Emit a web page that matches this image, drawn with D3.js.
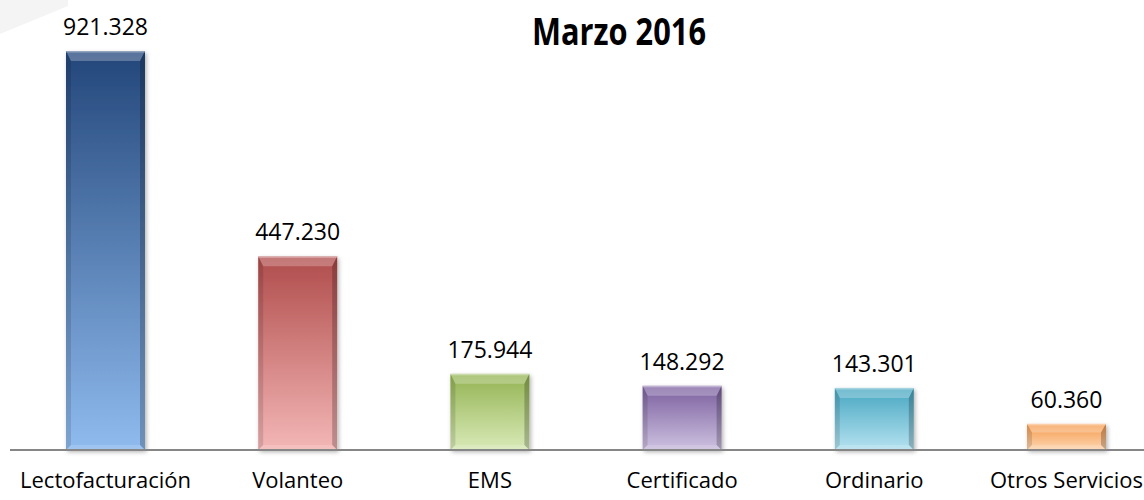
<!DOCTYPE html>
<html><head><meta charset="utf-8">
<script src="https://cdn.jsdelivr.net/npm/d3@7"></script>
<style>html,body{margin:0;padding:0;background:#fff;overflow:hidden}</style>
</head><body>
<svg id="chart" width="1144" height="500"></svg>
<script>
const categories = ["Lectofacturación","Volanteo","EMS","Certificado","Ordinario","Otros Servicios"];
const values = [921.328, 447.230, 175.944, 148.292, 143.301, 60.360];
const labels = ["921.328","447.230","175.944","148.292","143.301","60.360"];
const topColors = ["#23467a","#b04c4b","#93b352","#7b5f9e","#46a6c1","#f59a4c"];
const bottomColors = ["#8fbbee","#f3b7b6","#d9eab8","#cdc1e0","#b5e2f0","#fcd6b2"];
const title = "Marzo 2016";

const W = 1144, H = 500;
const svg = d3.select("#chart");
const defs = svg.append("defs");

// faint decorative shape top-left
svg.append("polygon").attr("points","0,0 68,0 68,6 0,34").attr("fill","#f4f4f4");

const x = d3.scaleBand().domain(categories).range([9.4, 1162.6]).paddingInner(0.589).paddingOuter(0.2945);
const baseY = 450;
const y = d3.scaleLinear().domain([0, 1000]).range([baseY, baseY - 433.07]);

const f = defs.append("filter").attr("id","sh").attr("x","-20%").attr("y","-20%").attr("width","140%").attr("height","140%");
f.append("feDropShadow").attr("dx",1.5).attr("dy",2).attr("stdDeviation",2).attr("flood-color","#000").attr("flood-opacity",0.3);

categories.forEach((c,i)=>{
  const g = defs.append("linearGradient").attr("id","g"+i).attr("x1",0).attr("y1",0).attr("x2",0).attr("y2",1);
  g.append("stop").attr("offset","0%").attr("stop-color",topColors[i]);
  g.append("stop").attr("offset","100%").attr("stop-color",bottomColors[i]);
});

const bars = svg.append("g").selectAll("g.bar").data(categories).join("g").attr("class","bar");
bars.each(function(c,i){
  const gEl = d3.select(this);
  const x0 = x(c), w = x.bandwidth(), y0 = y(values[i]), h = baseY - y0;
  const b = Math.min(10, h/3), s = 5;
  gEl.append("rect").attr("x",x0).attr("y",y0).attr("width",w).attr("height",h)
    .attr("fill","url(#g"+i+")").attr("filter","url(#sh)");
  gEl.append("polygon").attr("points",[[x0,y0],[x0+w,y0],[x0+w-s,y0+b],[x0+s,y0+b]].join(" "))
    .attr("fill","#fff").attr("opacity",0.25);
  gEl.append("polygon").attr("points",[[x0,y0],[x0+s,y0+b],[x0+s,y0+h-s],[x0,y0+h]].join(" "))
    .attr("fill","#000").attr("opacity",0.12);
  gEl.append("polygon").attr("points",[[x0+w,y0],[x0+w-s,y0+b],[x0+w-s,y0+h-s],[x0+w,y0+h]].join(" "))
    .attr("fill","#000").attr("opacity",0.22);
  gEl.append("polygon").attr("points",[[x0,y0+h],[x0+s,y0+h-s],[x0+w-s,y0+h-s],[x0+w,y0+h]].join(" "))
    .attr("fill","#fff").attr("opacity",0.15);
  gEl.append("rect").attr("x",x0).attr("y",y0).attr("width",w).attr("height",1.5).attr("fill","#fff").attr("opacity",0.35);
});

svg.append("g").selectAll("text").data(categories).join("text")
  .attr("x",c=>x(c)+x.bandwidth()/2)
  .attr("y",(c,i)=>y(values[i])-16)
  .attr("text-anchor","middle")
  .attr("font-family","Open Sans, sans-serif").attr("font-size",23).attr("fill","#000")
  .text((c,i)=>labels[i]);

const axis = d3.axisBottom(x).tickSize(0).tickPadding(22);
const ax = svg.append("g").attr("transform",`translate(0,${baseY})`).call(axis);
ax.select(".domain").attr("d",`M10,0H${W}`).attr("stroke","#868686").attr("stroke-width",2);
ax.selectAll(".tick text").attr("font-family","Open Sans, sans-serif").attr("font-size",22).attr("fill","#000");

svg.append("text").attr("x",619).attr("y",45).attr("text-anchor","middle")
  .attr("font-family","Open Sans, sans-serif").attr("font-weight","bold").attr("font-size",38)
  .attr("textLength",174).attr("lengthAdjust","spacingAndGlyphs")
  .text(title);
</script>
</body></html>
